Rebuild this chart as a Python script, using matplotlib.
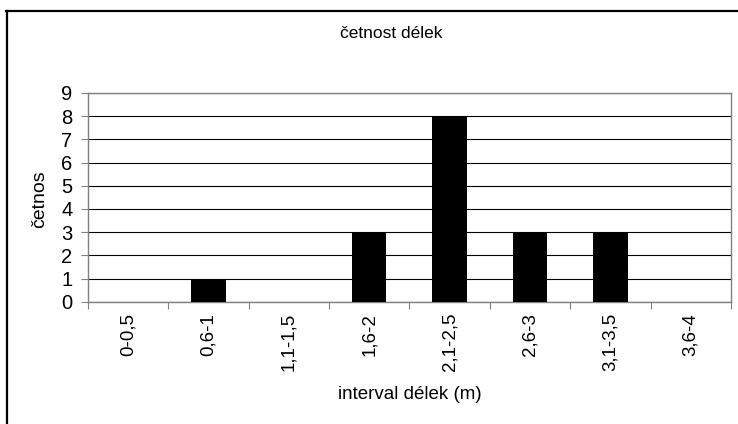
import matplotlib.pyplot as plt
from matplotlib.lines import Line2D
import numpy as np

# dados
intervaly = ['0-0,5', '0,6-1', '1,1-1,5', '1,6-2', '2,1-2,5', '2,6-3', '3,1-3,5', '3,6-4']
cetnosti = [0, 1, 0, 3, 8, 3, 3, 0]
yticks = list(range(0, 10))

plt.rcParams['font.family'] = ['Liberation Sans', 'DejaVu Sans']

fig = plt.figure(figsize=(7.38, 4.24), dpi=100)
ax = fig.add_axes([0.119, 0.288, 0.8715, 0.493])  # left, bottom, width, height

x = np.arange(len(intervaly))
ax.bar(x, cetnosti, width=0.43, color='black', zorder=3)

ax.set_xlim(-0.5, len(intervaly) - 0.5)
ax.set_ylim(0, 9)
ax.set_yticks(yticks)
ax.yaxis.grid(True, color='black', linewidth=0.8, zorder=0)
ax.tick_params(axis='y', direction='out', length=5, width=0.8, color='#808080', labelsize=14.5, pad=6)

# popisky kategorii uprostred, carky na hranicich
ax.set_xticks(x)
ax.set_xticklabels(intervaly, rotation=90, fontsize=13.5)
ax.tick_params(axis='x', which='major', length=0, pad=8)
ax.set_xticks(np.arange(-0.5, len(intervaly)), minor=True)
ax.tick_params(axis='x', which='minor', direction='out', length=5, width=0.8, color='#808080')

for s in ax.spines.values():
    s.set_color('#808080')
    s.set_linewidth(1.0)

fig.text(0.054, 0.53, 'četnos', rotation=90, fontsize=14, ha='center', va='center')
fig.text(0.555, 0.07, 'interval délek (m)', fontsize=13.5, ha='center', va='center')
fig.text(0.53, 0.922, 'četnost délek', fontsize=12.5, ha='center', va='center')

# ramecek grafu
fig.add_artist(Line2D([0.008, 1.0], [0.974, 0.974], color='black', linewidth=1.6, transform=fig.transFigure))
fig.add_artist(Line2D([0.009, 0.009], [0.0, 0.974], color='black', linewidth=1.6, transform=fig.transFigure))

fig.savefig('out.png', dpi=100)
